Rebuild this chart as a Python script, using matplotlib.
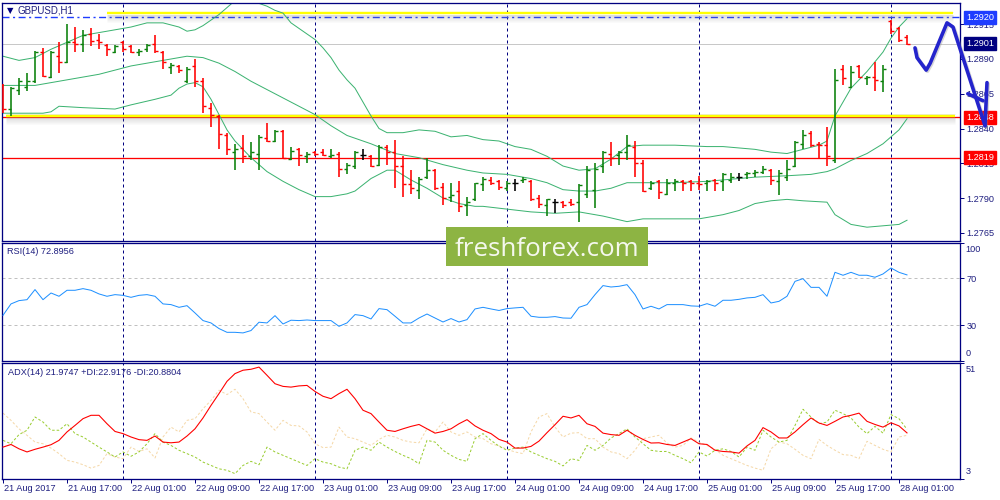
import numpy as np
import matplotlib
matplotlib.use("Agg")
import matplotlib.pyplot as plt
from matplotlib.transforms import blended_transform_factory as blend, ScaledTranslation
from matplotlib.patches import Rectangle

plt.rcParams['font.family'] = ['Liberation Sans', 'DejaVu Sans']

# ---------------- data ----------------
symbol = "GBPUSD,H1"
rsi_title = "RSI(14) 72.8956"
adx_title = "ADX(14) 21.9747 +DI:22.9176 -DI:20.8804"
watermark = "freshforex.com"

opens = [1.2871, 1.2854, 1.2868, 1.2870, 1.2874, 1.2895, 1.2877, 1.2892, 1.2888, 1.2902,
         1.2901, 1.2908, 1.2904, 1.2900, 1.2895, 1.2902, 1.2899, 1.2895, 1.2897, 1.2901,
         1.2895, 1.2884, 1.2885, 1.2874, 1.2885, 1.2874, 1.2855, 1.2849, 1.2835, 1.2823,
         1.2826, 1.2820, 1.2822, 1.2833, 1.2831, 1.2838, 1.2818, 1.2825, 1.2820, 1.2823,
         1.2823, 1.2820, 1.2822, 1.2811, 1.2813, 1.2821, 1.2820, 1.2814, 1.2827, 1.2823,
         1.2813, 1.2800, 1.2796, 1.2805, 1.2810, 1.2798, 1.2791, 1.2795, 1.2785, 1.2789,
         1.2800, 1.2803, 1.2802, 1.2797, 1.2801, 1.2803, 1.2802, 1.2790, 1.2785, 1.2787,
         1.2787, 1.2787, 1.2787, 1.2793, 1.2796, 1.2813, 1.2822, 1.2821, 1.2823, 1.2827,
         1.2815, 1.2797, 1.2802, 1.2793, 1.2801, 1.2802, 1.2802, 1.2801, 1.2801, 1.2803,
         1.2802, 1.2803, 1.2805, 1.2807, 1.2808, 1.2809, 1.2810, 1.2802, 1.2805, 1.2813,
         1.2829, 1.2837, 1.2829, 1.2828, 1.2817, 1.2883, 1.2870, 1.2885, 1.2876, 1.2877,
         1.2874, 1.2917, 1.2912, 1.2906]
highs = [1.2872, 1.2870, 1.2876, 1.2880, 1.2896, 1.2898, 1.2896, 1.2902, 1.2915, 1.2913,
         1.2911, 1.2912, 1.2908, 1.2901, 1.2900, 1.2903, 1.2900, 1.2897, 1.2901, 1.2907,
         1.2896, 1.2887, 1.2886, 1.2884, 1.2890, 1.2876, 1.2858, 1.2850, 1.2837, 1.2829,
         1.2835, 1.2830, 1.2835, 1.2844, 1.2839, 1.2839, 1.2827, 1.2826, 1.2823, 1.2824,
         1.2825, 1.2825, 1.2823, 1.2815, 1.2824, 1.2825, 1.2821, 1.2828, 1.2828, 1.2832,
         1.2820, 1.2810, 1.2805, 1.2819, 1.2811, 1.2801, 1.2801, 1.2802, 1.2791, 1.2801,
         1.2805, 1.2805, 1.2803, 1.2802, 1.2804, 1.2805, 1.2803, 1.2792, 1.2789, 1.2789,
         1.2788, 1.2789, 1.2800, 1.2813, 1.2815, 1.2824, 1.2830, 1.2824, 1.2835, 1.2831,
         1.2817, 1.2802, 1.2803, 1.2804, 1.2804, 1.2803, 1.2803, 1.2806, 1.2803, 1.2804,
         1.2808, 1.2808, 1.2808, 1.2809, 1.2810, 1.2813, 1.2811, 1.2810, 1.2817, 1.2831,
         1.2839, 1.2838, 1.2830, 1.2841, 1.2883, 1.2886, 1.2885, 1.2886, 1.2878, 1.2888,
         1.2886, 1.2918, 1.2913, 1.2907]
lows = [1.2851, 1.2849, 1.2864, 1.2867, 1.2873, 1.2877, 1.2876, 1.2880, 1.2887, 1.2895,
        1.2895, 1.2899, 1.2897, 1.2892, 1.2894, 1.2895, 1.2894, 1.2892, 1.2895, 1.2894,
        1.2883, 1.2879, 1.2880, 1.2873, 1.2870, 1.2851, 1.2841, 1.2825, 1.2821, 1.2810,
        1.2815, 1.2817, 1.2810, 1.2830, 1.2830, 1.2818, 1.2817, 1.2813, 1.2815, 1.2820,
        1.2820, 1.2819, 1.2805, 1.2807, 1.2811, 1.2817, 1.2812, 1.2813, 1.2814, 1.2797,
        1.2791, 1.2793, 1.2789, 1.2804, 1.2796, 1.2785, 1.2787, 1.2780, 1.2777, 1.2788,
        1.2795, 1.2799, 1.2796, 1.2795, 1.2795, 1.2801, 1.2788, 1.2783, 1.2777, 1.2779,
        1.2783, 1.2784, 1.2773, 1.2790, 1.2783, 1.2808, 1.2813, 1.2814, 1.2817, 1.2805,
        1.2794, 1.2796, 1.2789, 1.2792, 1.2795, 1.2795, 1.2795, 1.2796, 1.2795, 1.2795,
        1.2795, 1.2801, 1.2802, 1.2804, 1.2805, 1.2807, 1.2799, 1.2792, 1.2802, 1.2812,
        1.2825, 1.2827, 1.2818, 1.2813, 1.2815, 1.2871, 1.2869, 1.2876, 1.2871, 1.2867,
        1.2866, 1.2908, 1.2902, 1.2900]
closes = [1.2854, 1.2869, 1.2874, 1.2874, 1.2895, 1.2878, 1.2895, 1.2888, 1.2902, 1.2901,
          1.2907, 1.2903, 1.2902, 1.2897, 1.2899, 1.2897, 1.2895, 1.2896, 1.2900, 1.2896,
          1.2888, 1.2886, 1.2882, 1.2883, 1.2874, 1.2856, 1.2850, 1.2836, 1.2825, 1.2825,
          1.2820, 1.2823, 1.2834, 1.2831, 1.2838, 1.2819, 1.2824, 1.2821, 1.2822, 1.2822,
          1.2821, 1.2821, 1.2811, 1.2814, 1.2823, 1.2821, 1.2813, 1.2827, 1.2823, 1.2813,
          1.2800, 1.2797, 1.2804, 1.2810, 1.2797, 1.2790, 1.2792, 1.2784, 1.2787, 1.2801,
          1.2804, 1.2801, 1.2798, 1.2801, 1.2801, 1.2804, 1.2789, 1.2786, 1.2789, 1.2787,
          1.2785, 1.2786, 1.2799, 1.2810, 1.2811, 1.2823, 1.2819, 1.2823, 1.2828, 1.2815,
          1.2795, 1.2801, 1.2794, 1.2801, 1.2802, 1.2801, 1.2801, 1.2800, 1.2802, 1.2801,
          1.2807, 1.2805, 1.2805, 1.2808, 1.2809, 1.2811, 1.2803, 1.2808, 1.2811, 1.2830,
          1.2835, 1.2828, 1.2828, 1.2820, 1.2875, 1.2876, 1.2881, 1.2877, 1.2877, 1.2875,
          1.2883, 1.2910, 1.2904, 1.2901]

# Bollinger bands (bar index, price)
bb_up_idx = [0, 2, 4, 6, 8, 10, 12, 14, 16, 18, 20, 22, 23, 24, 25, 26, 27, 28, 29, 30,
             31, 32, 33, 34, 35, 36, 38, 39, 40, 41, 42, 43, 44, 45, 46, 47, 48, 50, 52, 54,
             56, 58, 60, 62, 64, 66, 68, 70, 72, 74, 76, 78, 80, 84, 88, 90, 92, 94, 96, 98,
             100, 102, 103, 104, 105, 106, 108, 110, 111, 112, 113]
bb_up = [1.2892, 1.2889, 1.2891, 1.2897, 1.2902, 1.2907, 1.2909, 1.2911, 1.2913, 1.2916,
         1.2916, 1.2913, 1.2910, 1.2911, 1.2914, 1.2918, 1.2922, 1.2927, 1.2932, 1.2934,
         1.2933, 1.2930, 1.2928, 1.2925, 1.2923, 1.2916, 1.2908, 1.2904, 1.2898, 1.2891,
         1.2882, 1.2875, 1.2869, 1.2859, 1.2849, 1.2840, 1.2837, 1.2837, 1.2839, 1.2838,
         1.2834, 1.2835, 1.2832, 1.2831, 1.2827, 1.2825, 1.2820, 1.2813, 1.2810, 1.2811,
         1.2818, 1.2827, 1.2828, 1.2828, 1.2827, 1.2827, 1.2826, 1.2825, 1.2823, 1.2822,
         1.2825, 1.2828, 1.2831, 1.2849, 1.2859, 1.2869, 1.2881, 1.2895, 1.2905, 1.2913,
         1.2919]
bb_mid_idx = [0, 4, 8, 12, 16, 20, 23, 25, 27, 29, 31, 33, 35, 37, 39, 41, 43, 46, 49, 52,
              55, 58, 60, 63, 66, 68, 70, 72, 74, 76, 78, 80, 84, 88, 90, 94, 98, 101, 103, 104,
              106, 108, 110, 112, 113]
bb_mid = [1.2871, 1.2871, 1.2875, 1.2879, 1.2885, 1.2889, 1.2892, 1.2891, 1.2887, 1.2881,
          1.2874, 1.2868, 1.2862, 1.2856, 1.2850, 1.2842, 1.2835, 1.2829, 1.2822, 1.2819,
          1.2814, 1.2810, 1.2808, 1.2807, 1.2804, 1.2801, 1.2796, 1.2795, 1.2795, 1.2797,
          1.2801, 1.2801, 1.2801, 1.2802, 1.2803, 1.2805, 1.2806, 1.2807, 1.2809, 1.2811,
          1.2817, 1.2822, 1.2829, 1.2839, 1.2847]
bb_low_idx = [0, 5, 6, 7, 10, 14, 16, 19, 21, 22, 23, 24, 25, 26, 27, 28, 29, 31, 33, 35,
              37, 39, 41, 43, 44, 46, 48, 49, 51, 53, 55, 57, 59, 60, 63, 66, 69, 72, 75, 78,
              80, 82, 87, 90, 92, 94, 96, 98, 100, 103, 104, 106, 108, 110, 112, 113]
bb_low = [1.2851, 1.2851, 1.2852, 1.2856, 1.2855, 1.2854, 1.2857, 1.2861, 1.2864, 1.2869,
          1.2872, 1.2873, 1.2870, 1.2861, 1.2850, 1.2839, 1.2831, 1.2819, 1.2809, 1.2802,
          1.2796, 1.2791, 1.2791, 1.2793, 1.2795, 1.2804, 1.2810, 1.2810, 1.2803, 1.2797,
          1.2790, 1.2786, 1.2784, 1.2784, 1.2782, 1.2780, 1.2779, 1.2780, 1.2777, 1.2773,
          1.2775, 1.2775, 1.2775, 1.2778, 1.2781, 1.2786, 1.2788, 1.2789, 1.2788, 1.2787,
          1.2778, 1.2771, 1.2769, 1.2770, 1.2771, 1.2774]

rsi = [38.5, 48.2, 51.0, 51.8, 60.4, 51.8, 57.5, 54.7, 59.8, 59.8,
       61.2, 59.8, 56.7, 54.7, 56.1, 55.5, 53.8, 55.5, 56.1, 54.7,
       48.2, 47.6, 45.3, 46.7, 40.5, 34.0, 32.0, 27.2, 24.0, 24.0,
       23.5, 25.5, 32.6, 32.0, 38.2, 31.1, 34.3, 34.0, 34.5, 34.0,
       34.0, 34.0, 29.1, 32.0, 39.1, 38.2, 35.4, 44.2, 43.3, 37.7,
       32.0, 32.0, 36.2, 39.6, 36.2, 32.8, 35.7, 32.8, 34.8, 43.9,
       45.3, 43.9, 42.6, 44.2, 44.8, 45.3, 37.7, 36.8, 36.8, 37.4,
       36.2, 36.0, 45.3, 47.6, 56.1, 63.8, 62.6, 63.2, 64.6, 56.1,
       43.9, 46.2, 43.9, 47.6, 47.6, 47.6, 46.5, 46.2, 48.4, 46.2,
       51.3, 51.3, 52.1, 53.3, 53.8, 56.1, 49.0, 50.4, 54.7, 67.4,
       69.7, 62.3, 62.3, 54.7, 75.1, 72.6, 75.1, 72.6, 72.6, 70.9,
       73.7, 78.8, 75.1, 72.9]
rsi_levels = [70, 30]

adx = [16.1, 17.2, 15.4, 14.1, 15.2, 16.1, 17.1, 18.9, 22.4, 25.1,
       27.9, 29.3, 29.3, 25.8, 22.6, 21.7, 20.3, 19.2, 18.9, 20.7,
       18.2, 17.9, 18.2, 20.7, 23.7, 28.2, 33.4, 38.3, 43.4, 46.6,
       48.0, 48.4, 49.3, 45.9, 42.4, 41.3, 41.0, 41.5, 41.7, 39.2,
       37.2, 36.2, 38.3, 40.1, 36.2, 31.4, 30.0, 26.5, 23.1, 22.6,
       23.7, 24.7, 25.5, 23.7, 21.9, 22.6, 23.7, 25.8, 27.5, 24.9,
       23.1, 21.7, 19.3, 18.2, 15.7, 15.7, 16.4, 18.6, 22.1, 25.4,
       28.9, 28.2, 29.3, 25.8, 24.7, 21.9, 21.3, 21.0, 23.1, 21.0,
       19.3, 17.8, 17.9, 17.2, 16.8, 18.2, 19.6, 17.5, 17.2, 14.8,
       14.3, 14.1, 13.6, 16.6, 18.9, 24.2, 22.4, 19.9, 19.9, 22.4,
       25.4, 28.2, 26.1, 25.1, 26.8, 28.6, 29.3, 30.2, 26.8, 25.5,
       24.4, 26.2, 24.9, 22.0]
plus_di = [18.9, 17.5, 21.3, 23.1, 28.6, 26.5, 23.1, 23.1, 25.8, 21.7,
           20.3, 18.2, 16.1, 14.1, 12.0, 14.1, 12.3, 14.1, 17.5, 21.7,
           18.2, 16.8, 14.8, 13.4, 12.0, 9.9, 8.5, 7.1, 6.5, 5.1,
           8.5, 10.2, 8.8, 16.1, 14.1, 12.7, 11.3, 9.9, 8.5, 11.3,
           9.9, 9.2, 7.8, 7.1, 14.8, 16.1, 14.8, 18.2, 16.1, 14.3,
           12.7, 11.3, 9.2, 18.9, 18.2, 14.8, 12.7, 11.0, 10.2, 19.6,
           21.7, 18.9, 16.5, 14.8, 15.7, 16.1, 14.1, 12.7, 11.3, 10.2,
           8.3, 11.3, 10.6, 16.8, 14.8, 16.8, 19.9, 21.7, 23.7, 20.3,
           17.5, 14.8, 14.3, 14.3, 12.7, 11.3, 9.6, 14.1, 12.4, 14.8,
           15.4, 14.3, 12.0, 16.1, 14.8, 23.1, 20.3, 18.2, 18.9, 25.1,
           31.8, 28.6, 25.8, 26.5, 31.4, 30.0, 28.2, 24.4, 21.7, 24.7,
           21.9, 29.6, 27.9, 23.5]
minus_di = [30.2, 27.2, 23.7, 21.0, 18.2, 17.5, 15.7, 13.4, 10.6, 9.9,
            8.8, 7.4, 8.5, 13.4, 12.0, 11.3, 16.1, 14.3, 15.4, 11.6,
            20.3, 24.4, 22.4, 27.2, 27.9, 32.0, 35.5, 39.7, 37.9, 40.1,
            36.2, 30.7, 30.0, 26.5, 23.1, 27.2, 25.1, 24.9, 22.4, 17.5,
            15.9, 16.1, 24.4, 20.3, 19.6, 18.2, 16.8, 19.3, 21.0, 20.3,
            18.9, 18.2, 17.9, 23.7, 22.4, 26.5, 22.4, 21.0, 22.4, 20.3,
            19.6, 17.5, 16.6, 15.2, 14.1, 13.4, 22.4, 28.6, 30.0, 24.4,
            20.3, 21.9, 22.1, 19.6, 19.6, 16.1, 14.1, 13.4, 11.3, 14.8,
            19.6, 20.3, 21.0, 17.8, 16.1, 16.8, 19.9, 18.2, 16.8, 15.2,
            12.7, 11.3, 9.9, 8.5, 7.4, 6.5, 15.4, 18.2, 17.5, 15.2,
            12.7, 11.3, 19.3, 16.8, 14.8, 13.0, 12.7, 11.3, 18.5, 16.8,
            15.2, 14.1, 20.3, 21.0]

date_idx = [0, 8, 16, 24, 32, 40, 48, 56, 64, 72, 80, 88, 96, 104, 112]
date_labels = ["21 Aug 2017", "21 Aug 17:00", "22 Aug 01:00", "22 Aug 09:00", "22 Aug 17:00",
               "23 Aug 01:00", "23 Aug 09:00", "23 Aug 17:00", "24 Aug 01:00", "24 Aug 09:00",
               "24 Aug 17:00", "25 Aug 01:00", "25 Aug 09:00", "25 Aug 17:00", "28 Aug 01:00"]
day_sep_idx = [15, 39, 63, 87, 111]

price_ticks = [1.2915, 1.2890, 1.2865, 1.2840, 1.2815, 1.2790, 1.2765]
level_blue = 1.2920
level_bid = 1.2901
level_red = [1.2848, 1.2819]
yellow_hi = 1.2923
yellow_hi_span = (13.0, 118.8)
yellow_lo = 1.2849
yellow_lo_span = (0.4, 119.0)
price_boxes = [(1.2920, '#1E3CFF'), (1.2901, '#000080'), (1.2848, '#FF0000'), (1.2819, '#FF0000')]

arrow_i = [114.0, 114.25, 115.4, 115.9, 118.0, 118.75, 122.75]
arrow_p = [1.2898, 1.2891, 1.2882, 1.2887, 1.2916, 1.2913, 1.2842]
arrow_head1_i = [120.6, 122.5]
arrow_head1_p = [1.2865, 1.2860]
arrow_head2_i = [123.0, 122.75]
arrow_head2_p = [1.2873, 1.2842]

# ---------------- layout ----------------
W, H = 1000, 500
fig = plt.figure(figsize=(W / 100, H / 100), dpi=100)
fig.patch.set_facecolor('white')
NAVY = '#000080'
TXT = '#1F1F80'
PT = 0.72  # points per pixel
FS = 6.6


def off(dx, dy):
    return ScaledTranslation(dx / 100.0, -dy / 100.0, fig.dpi_scale_trans)


def panel(x0, y0, x1, y1):
    a = fig.add_axes([x0 / W, 1 - y1 / H, (x1 - x0) / W, (y1 - y0) / H])
    for s in a.spines.values():
        s.set_color(NAVY)
        s.set_linewidth(1.3 * PT)
    a.set_xlim((x0 - 3) / 8.0, (x1 - 3) / 8.0)
    a.tick_params(axis='x', bottom=False, labelbottom=False)
    a.yaxis.tick_right()
    a.tick_params(axis='y', direction='out', length=3, width=0.7, colors=NAVY,
                  labelcolor=TXT, labelsize=FS, pad=1.5)
    for i in day_sep_idx:
        a.axvline(i, color=NAVY, lw=1.0 * PT, ls=(0, (3, 3)), zorder=1)
    return a


ax = panel(1.5, 2.5, 960, 240.5)
ax_rsi = panel(1.5, 242.5, 960, 360.5)
ax_adx = panel(1.5, 363, 960, 478.7)

# ---------------- main price panel ----------------
ppx = 1 / 13900.0  # price per pixel
ax.set_ylim(1.2920 - (240.5 - 17.3) * ppx, 1.2920 + (17.3 - 2.5) * ppx)
ax.set_yticks(price_ticks)
ax.set_yticklabels([f"{v:.4f}" for v in price_ticks])

x0, x1 = ax.get_xlim()
ax.hlines(level_bid, x0, x1, color='#C8C8C8', lw=1.0 * PT, zorder=1)
for lv in level_red:
    ax.hlines(lv, x0, x1, color='#FF0000', lw=1.3 * PT, zorder=2)
ax.hlines(level_blue, x0, x1, color='#1E3CFF', lw=1.4 * PT, ls=(0, (5, 2.5, 1.5, 2.5)), zorder=2)

for lv, (s0, s1) in [(yellow_hi, yellow_hi_span), (yellow_lo, yellow_lo_span)]:
    for k in range(1, 9):
        ax.hlines(lv - (k + 0.5) * ppx, s0, s1, color='0.45', alpha=0.28 * (1 - k / 9.0),
                  lw=1.0 * PT, zorder=2)
    ax.hlines(lv + 1.5 * ppx, s0, s1, color='0.6', alpha=0.2, lw=1.0 * PT, zorder=2)
    ax.hlines(lv, s0, s1, color='#FFFF00', lw=2.4 * PT, zorder=2.2)

ax.plot(bb_up_idx, bb_up, color='#3CB371', lw=1.0 * PT, zorder=2.5)
ax.plot(bb_mid_idx, bb_mid, color='#3CB371', lw=1.0 * PT, zorder=2.5)
ax.plot(bb_low_idx, bb_low, color='#3CB371', lw=1.0 * PT, zorder=2.5)

o, h, l, c = map(np.asarray, (opens, highs, lows, closes))
idx = np.arange(len(o))
cols = np.where(np.isclose(c, o), '#000000', np.where(c > o, '#0A800A', '#FF0000'))
ax.vlines(idx, l, h, colors=cols, lw=1.6 * PT, zorder=4)
ax.hlines(o, idx - 0.42, idx, colors=cols, lw=1.4 * PT, zorder=4)
ax.hlines(c, idx, idx + 0.42, colors=cols, lw=1.4 * PT, zorder=4)

ytr = blend(ax.transAxes, ax.transData)
for val, colr in price_boxes:
    ax.text(1.0, val, f"{val:.4f}", transform=ytr + off(6.0, 0), ha='left', va='center',
            fontsize=FS, color='white', zorder=6,
            bbox=dict(boxstyle='square,pad=0.22', fc=colr, ec=colr))

for ai, ap in [(arrow_i, arrow_p), (arrow_head1_i, arrow_head1_p), (arrow_head2_i, arrow_head2_p)]:
    ax.plot(np.asarray(ai) + 0.15, np.asarray(ap) - 1.2 * ppx, color='0.55', alpha=0.35,
            lw=3.6 * PT, clip_on=False, zorder=9.5, solid_capstyle='round', solid_joinstyle='round')
    ax.plot(ai, ap, color='#2424CC', lw=3.6 * PT, clip_on=False, zorder=10,
            solid_capstyle='round', solid_joinstyle='round')

fig.text(10 / W, 1 - 10.5 / H, "\u25BC", fontsize=6.0, color=NAVY, ha='center', va='center',
         family=['DejaVu Sans'])
fig.text(18 / W, 1 - 10.5 / H, symbol, fontsize=7.0, color=TXT, ha='left', va='center')

# ---------------- RSI panel ----------------
ax_rsi.set_ylim(0, 100.5)
ax_rsi.plot(np.arange(len(rsi)), rsi, color='#1E90FF', lw=1.0 * PT, zorder=3)
for lv in rsi_levels:
    ax_rsi.axhline(lv, color='#C0C0C0', lw=1.0 * PT, ls=(0, (3, 3)), zorder=1)
ax_rsi.set_yticks([0, 30, 70, 100])
ax_rsi.set_yticklabels(['', '30', '70', ''])
ax_rsi.text(1.0, 1.0, "100", transform=ax_rsi.transAxes + off(5.5, 6.5), ha='left', va='center',
            fontsize=FS, color=TXT)
ax_rsi.text(1.0, 0.0, "0", transform=ax_rsi.transAxes + off(5.5, -6.8), ha='left', va='center',
            fontsize=FS, color=TXT)
ax_rsi.text(0.0, 1.0, rsi_title, transform=ax_rsi.transAxes + off(5.8, 8.8), ha='left', va='center',
            fontsize=FS, color=TXT)

# ---------------- ADX panel ----------------
ax_adx.set_ylim(3, 51)
xi = np.arange(len(adx))
ax_adx.plot(xi, minus_di, color='#F5D8A8', lw=1.0 * PT, ls=(0, (2.5, 2)), zorder=2)
ax_adx.plot(xi, plus_di, color='#9ACD32', lw=1.0 * PT, ls=(0, (2.5, 2)), zorder=2.5)
ax_adx.plot(xi, adx, color='#FF0000', lw=1.1 * PT, zorder=3)
ax_adx.set_yticks([3, 51])
ax_adx.set_yticklabels(['', ''])
ax_adx.text(1.0, 1.0, "51", transform=ax_adx.transAxes + off(5.5, 6.3), ha='left', va='center',
            fontsize=FS, color=TXT)
ax_adx.text(1.0, 0.0, "3", transform=ax_adx.transAxes + off(5.5, -6.7), ha='left', va='center',
            fontsize=FS, color=TXT)
ax_adx.text(0.0, 1.0, adx_title, transform=ax_adx.transAxes + off(6.8, 9.0), ha='left', va='center',
            fontsize=FS, color=TXT)

ax_adx.set_xticks(date_idx)
ax_adx.tick_params(axis='x', bottom=True, direction='out', length=3, width=0.7, colors=NAVY,
                   labelbottom=False)
xtr = blend(ax_adx.transData, ax_adx.transAxes)
for i, lab in zip(date_idx, date_labels):
    ax_adx.text(i, 0.0, lab, transform=xtr + off(1.0, 10.0), ha='left', va='center',
                fontsize=FS, color=TXT)

# ---------------- watermark ----------------
fig.patches.append(Rectangle((446 / W, 1 - 266 / H), (648 - 446) / W, (266 - 227) / H,
                             transform=fig.transFigure, fc='#8DB443', ec='none', zorder=5))
fig.text(546.5 / W, 1 - 255.5 / H, watermark, family=['Open Sans', 'DejaVu Sans'], fontsize=18.7,
         color='#F5F8EE', ha='center', va='baseline', zorder=6)

fig.savefig('out.png', dpi=100, facecolor='white')
